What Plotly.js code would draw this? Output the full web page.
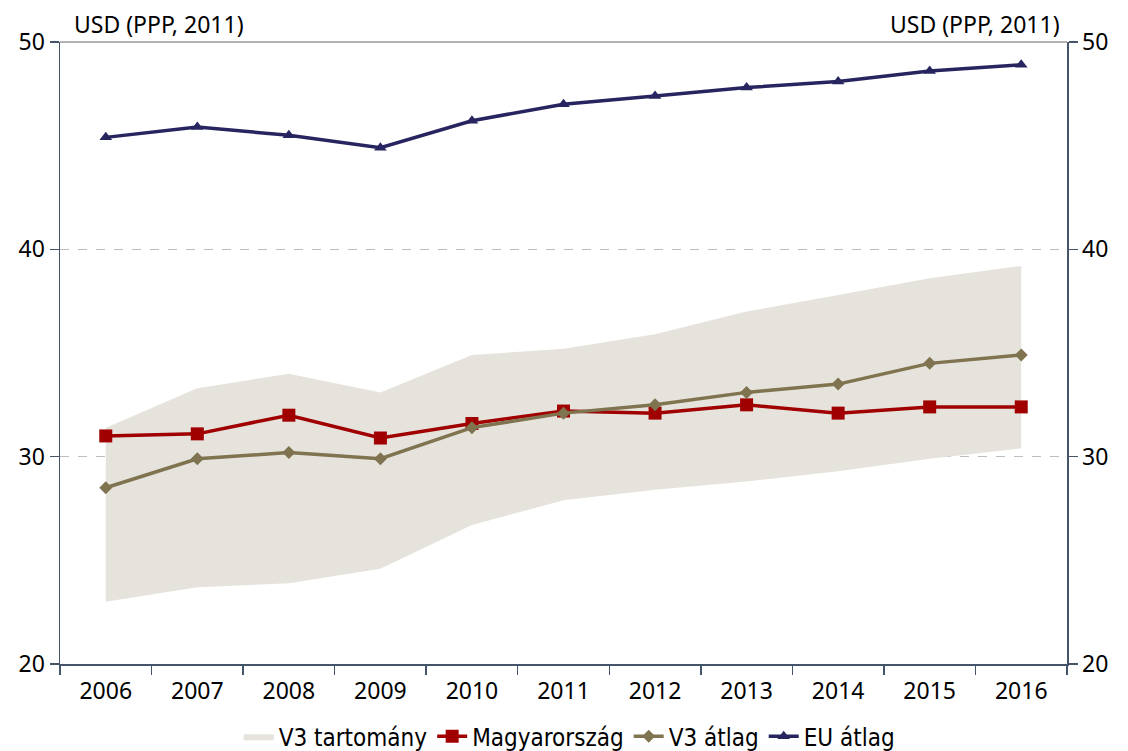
<!DOCTYPE html>
<html>
<head>
<meta charset="utf-8">
<script src="https://cdn.plot.ly/plotly-3.0.1.min.js"></script>
<style>html,body{margin:0;padding:0;background:#fff;}#chart{width:1128px;height:751px;}</style>
</head>
<body>
<div id="chart"></div>
<script>
const years = ["2006","2007","2008","2009","2010","2011","2012","2013","2014","2015","2016"];
const v3Upper = [31.4, 33.3, 34.0, 33.1, 34.9, 35.2, 35.9, 37.0, 37.8, 38.6, 39.2];
const v3Lower = [23.0, 23.7, 23.9, 24.6, 26.7, 27.9, 28.4, 28.8, 29.3, 29.9, 30.4];
const hungary = [31.0, 31.1, 32.0, 30.9, 31.6, 32.2, 32.1, 32.5, 32.1, 32.4, 32.4];
const v3Avg = [28.5, 29.9, 30.2, 29.9, 31.4, 32.1, 32.5, 33.1, 33.5, 34.5, 34.9];
const euAvg = [45.4, 45.9, 45.5, 44.9, 46.2, 47.0, 47.4, 47.8, 48.1, 48.6, 48.9];
const yTicks = [20, 30, 40, 50];
const unitLabel = "USD (PPP, 2011)";

const font = "'Noto Sans', 'DejaVu Sans', sans-serif";
const legendFont = "'DejaVu Sans Condensed', 'DejaVu Sans', sans-serif";
const axisCol = "#44546A";

const traces = [
  {x: years, y: v3Lower, type: "scatter", mode: "lines", line: {width: 0, color: "rgba(0,0,0,0)"},
   showlegend: false, hoverinfo: "skip"},
  {x: years, y: v3Upper, type: "scatter", mode: "lines", fill: "tonexty", fillcolor: "#E5E3DC",
   line: {width: 0, color: "#E5E3DC"}, name: "V3 tartomány"},
  {x: years, y: hungary, type: "scatter", mode: "lines+markers", name: "Magyarország",
   line: {color: "#A00000", width: 3.5}, marker: {symbol: "square", size: 13, color: "#A00000"}},
  {x: years, y: v3Avg, type: "scatter", mode: "lines+markers", name: "V3 átlag",
   line: {color: "#7F7350", width: 3.5}, marker: {symbol: "diamond", size: 10, color: "#7F7350"}},
  {x: years, y: euAvg, type: "scatter", mode: "lines+markers", name: "EU átlag",
   line: {color: "#27255F", width: 3.5}, marker: {symbol: "triangle-up", size: 11, color: "#27255F"}},
  {x: years, y: euAvg, type: "scatter", mode: "none", yaxis: "y2", showlegend: false, hoverinfo: "skip"}
];

const layout = {
  width: 1128, height: 751,
  margin: {l: 60, r: 61, t: 42, b: 87, autoexpand: false},
  paper_bgcolor: "#fff", plot_bgcolor: "#fff",
  font: {family: font, size: 23, color: "#000"},
  showlegend: true,
  legend: {orientation: "h", xref: "container", yref: "container", x: 0.505, xanchor: "center",
           y: 0.019, yanchor: "middle",
           font: {family: legendFont, size: 24, color: "#000"}, traceorder: "normal",
           itemwidth: 30, tracegroupgap: 0},
  xaxis: {type: "category", tickson: "boundaries", ticks: "outside", ticklen: 9, tickcolor: axisCol,
          tickwidth: 1.5, showline: true, linecolor: axisCol, linewidth: 1.5, showgrid: false,
          ticklabelstandoff: 6,
          tickfont: {family: font, size: 23}, range: [-0.5, 10.5], automargin: false},
  yaxis: {range: [20, 50], tickvals: yTicks, ticks: "outside", ticklen: 9, tickcolor: axisCol, tickwidth: 1.5,
          showline: true, linecolor: axisCol, linewidth: 1.5, showgrid: true, gridcolor: "#BDBDBD",
          griddash: "dash", gridwidth: 1, zeroline: false, tickfont: {family: font, size: 23}, automargin: false},
  yaxis2: {range: [20, 50], tickvals: yTicks, overlaying: "y", side: "right", ticks: "outside", ticklen: 9,
           tickcolor: axisCol, tickwidth: 1.5, showline: true, linecolor: axisCol, linewidth: 1.5,
           showgrid: false, zeroline: false, tickfont: {family: font, size: 23}, automargin: false},
  shapes: [{type: "line", xref: "paper", yref: "paper", x0: 0, x1: 1, y0: 1, y1: 1,
            line: {color: "#9A9A9A", width: 1.5}}],
  annotations: [
    {text: unitLabel, xref: "paper", yref: "paper", x: 0.012, y: 1, xanchor: "left", yanchor: "bottom",
     showarrow: false, font: {family: font, size: 23, color: "#000"}, yshift: 0},
    {text: unitLabel, xref: "paper", yref: "paper", x: 0.995, y: 1, xanchor: "right", yanchor: "bottom",
     showarrow: false, font: {family: font, size: 23, color: "#000"}, yshift: 0}
  ]
};

Plotly.newPlot("chart", traces, layout, {displayModeBar: false, staticPlot: true});
</script>
</body>
</html>
